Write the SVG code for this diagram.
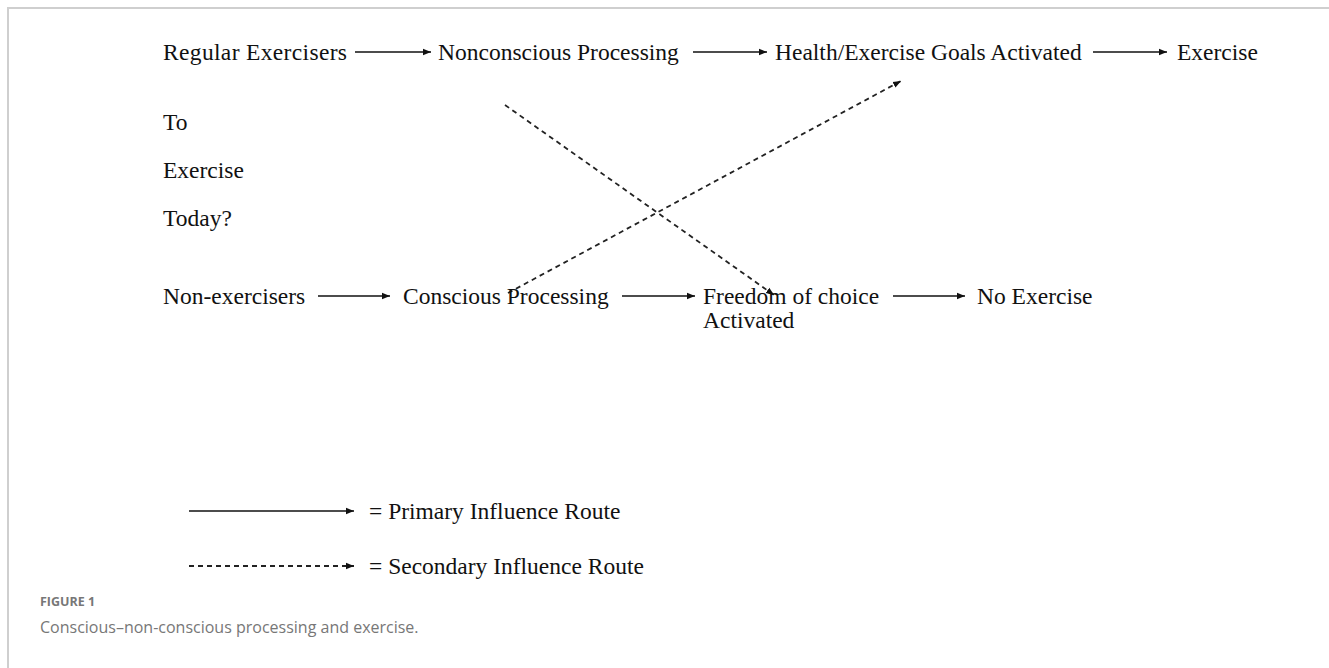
<svg xmlns="http://www.w3.org/2000/svg" width="1329" height="668" viewBox="0 0 1329 668">
<defs>
<marker id="ah" viewBox="0 0 10 10" refX="10" refY="5" markerWidth="8" markerHeight="8" markerUnits="userSpaceOnUse" orient="auto">
<path d="M0,1 L10,5 L0,9 z" fill="#111"/>
</marker>
<style>
.t{font-family:"Liberation Serif","Times New Roman",serif;font-size:23.5px;fill:#111}
.s{stroke:#111;stroke-width:1.6;fill:none;marker-end:url(#ah)}
.d{stroke:#222;stroke-width:1.8;fill:none;stroke-dasharray:5 4;marker-end:url(#ah)}
.cap{font-family:"Open Sans","Liberation Sans",sans-serif;fill:#777}
</style>
</defs>
<rect width="1329" height="668" fill="#fff"/>
<path d="M8,668 V8 H1329" fill="none" stroke="#cfcfcf" stroke-width="2"/>
<g id="connectors">
<line class="s" x1="355" y1="52" x2="431" y2="52"/>
<line class="s" x1="693" y1="52" x2="767" y2="52"/>
<line class="s" x1="1093" y1="52" x2="1167" y2="52"/>
<line class="s" x1="318" y1="296" x2="390" y2="296"/>
<line class="s" x1="622" y1="296" x2="695" y2="296"/>
<line class="s" x1="893" y1="296" x2="965" y2="296"/>
<line class="d" x1="505" y1="105" x2="774" y2="295"/>
<line class="d" x1="508" y1="293" x2="901" y2="81"/>
</g>
<g id="n-regular"><text class="t" x="163" y="60" textLength="184" lengthAdjust="spacing">Regular Exercisers</text></g>
<g id="n-nonconscious"><text class="t" x="438" y="60">Nonconscious Processing</text></g>
<g id="n-goals"><text class="t" x="775" y="60">Health/Exercise Goals Activated</text></g>
<g id="n-exercise"><text class="t" x="1177" y="60">Exercise</text></g>
<g id="n-question"><text class="t" x="163" y="130">To</text><text class="t" x="163" y="178">Exercise</text><text class="t" x="163" y="226">Today?</text></g>
<g id="n-nonexercisers"><text class="t" x="163" y="304">Non-exercisers</text></g>
<g id="n-conscious"><text class="t" x="403" y="304">Conscious Processing</text></g>
<g id="n-freedom"><text class="t" x="703" y="304">Freedom of choice</text><text class="t" x="703" y="328">Activated</text></g>
<g id="n-noexercise"><text class="t" x="977" y="304">No Exercise</text></g>
<g id="legend">
<line class="s" x1="189" y1="511" x2="354" y2="511"/>
<text class="t" x="369" y="519">= Primary Influence Route</text>
<line class="d" x1="189" y1="566" x2="354" y2="566"/>
<text class="t" x="369" y="574">= Secondary Influence Route</text>
</g>
<g id="caption">
<text class="cap" x="40" y="606" font-size="12.5" font-weight="bold">FIGURE 1</text>
<text class="cap" x="40" y="633" font-size="16">Conscious–non-conscious processing and exercise.</text>
</g>
</svg>
